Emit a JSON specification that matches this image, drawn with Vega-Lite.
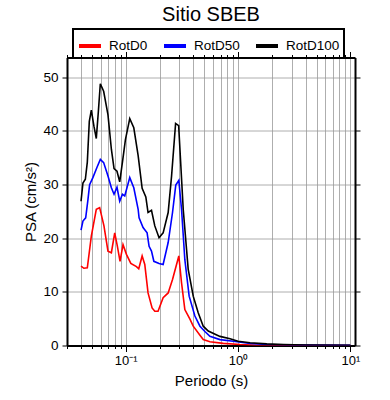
{
  "$schema": "https://vega.github.io/schema/vega-lite/v6.json",
  "width": 288,
  "height": 288,
  "autosize": {"type": "none"},
  "padding": {"left": 67, "top": 57.5, "right": 35, "bottom": 54.5},
  "config": {
    "font": "Liberation Sans",
    "view": {"stroke": null},
    "axis": {"domainColor": "black", "domainWidth": 2, "tickColor": "black", "tickWidth": 1, "labelColor": "black", "titleColor": "black", "titleFontWeight": "normal", "gridColor": "#999999", "gridWidth": 0.8, "gridOpacity": 1}
  },
  "title": {"text": "Sitio SBEB", "fontSize": 20, "fontWeight": "normal", "anchor": "middle", "baseline": "alphabetic", "offset": 0, "dy": 12.5, "color": "black"},
  "data": {"values": [
    {"T": 0.04, "PSA": 14.8, "comp": "RotD0"},
    {"T": 0.0424, "PSA": 14.4, "comp": "RotD0"},
    {"T": 0.0455, "PSA": 14.5, "comp": "RotD0"},
    {"T": 0.0494, "PSA": 20.4, "comp": "RotD0"},
    {"T": 0.0547, "PSA": 25.4, "comp": "RotD0"},
    {"T": 0.0586, "PSA": 25.7, "comp": "RotD0"},
    {"T": 0.064, "PSA": 22.3, "comp": "RotD0"},
    {"T": 0.0695, "PSA": 17.6, "comp": "RotD0"},
    {"T": 0.0745, "PSA": 17.3, "comp": "RotD0"},
    {"T": 0.0798, "PSA": 21.0, "comp": "RotD0"},
    {"T": 0.0843, "PSA": 18.5, "comp": "RotD0"},
    {"T": 0.089, "PSA": 15.7, "comp": "RotD0"},
    {"T": 0.0946, "PSA": 18.8, "comp": "RotD0"},
    {"T": 0.1015, "PSA": 17.0, "comp": "RotD0"},
    {"T": 0.111, "PSA": 15.3, "comp": "RotD0"},
    {"T": 0.1246, "PSA": 14.7, "comp": "RotD0"},
    {"T": 0.1306, "PSA": 14.3, "comp": "RotD0"},
    {"T": 0.14, "PSA": 16.7, "comp": "RotD0"},
    {"T": 0.1478, "PSA": 15.1, "comp": "RotD0"},
    {"T": 0.158, "PSA": 9.8, "comp": "RotD0"},
    {"T": 0.1717, "PSA": 7.0, "comp": "RotD0"},
    {"T": 0.1815, "PSA": 6.4, "comp": "RotD0"},
    {"T": 0.194, "PSA": 6.4, "comp": "RotD0"},
    {"T": 0.2153, "PSA": 8.9, "comp": "RotD0"},
    {"T": 0.2387, "PSA": 9.8, "comp": "RotD0"},
    {"T": 0.261, "PSA": 12.3, "comp": "RotD0"},
    {"T": 0.297, "PSA": 16.7, "comp": "RotD0"},
    {"T": 0.314, "PSA": 11.7, "comp": "RotD0"},
    {"T": 0.336, "PSA": 6.7, "comp": "RotD0"},
    {"T": 0.373, "PSA": 4.9, "comp": "RotD0"},
    {"T": 0.399, "PSA": 3.6, "comp": "RotD0"},
    {"T": 0.458, "PSA": 1.9, "comp": "RotD0"},
    {"T": 0.49, "PSA": 1.1, "comp": "RotD0"},
    {"T": 0.562, "PSA": 0.7, "comp": "RotD0"},
    {"T": 0.739, "PSA": 0.4, "comp": "RotD0"},
    {"T": 1.04, "PSA": 0.19, "comp": "RotD0"},
    {"T": 1.47, "PSA": 0.06, "comp": "RotD0"},
    {"T": 3.0, "PSA": 0.02, "comp": "RotD0"},
    {"T": 10.0, "PSA": 0.01, "comp": "RotD0"},
    {"T": 0.04, "PSA": 21.5, "comp": "RotD50"},
    {"T": 0.0416, "PSA": 23.2, "comp": "RotD50"},
    {"T": 0.044, "PSA": 23.8, "comp": "RotD50"},
    {"T": 0.0461, "PSA": 27.2, "comp": "RotD50"},
    {"T": 0.0477, "PSA": 30.0, "comp": "RotD50"},
    {"T": 0.051, "PSA": 31.3, "comp": "RotD50"},
    {"T": 0.0554, "PSA": 33.2, "comp": "RotD50"},
    {"T": 0.0594, "PSA": 34.7, "comp": "RotD50"},
    {"T": 0.0636, "PSA": 34.1, "comp": "RotD50"},
    {"T": 0.0695, "PSA": 31.6, "comp": "RotD50"},
    {"T": 0.0745, "PSA": 29.4, "comp": "RotD50"},
    {"T": 0.0787, "PSA": 28.2, "comp": "RotD50"},
    {"T": 0.0836, "PSA": 29.5, "comp": "RotD50"},
    {"T": 0.0884, "PSA": 26.9, "comp": "RotD50"},
    {"T": 0.0935, "PSA": 28.2, "comp": "RotD50"},
    {"T": 0.098, "PSA": 27.9, "comp": "RotD50"},
    {"T": 0.1086, "PSA": 31.3, "comp": "RotD50"},
    {"T": 0.118, "PSA": 29.4, "comp": "RotD50"},
    {"T": 0.129, "PSA": 25.4, "comp": "RotD50"},
    {"T": 0.1315, "PSA": 23.8, "comp": "RotD50"},
    {"T": 0.1427, "PSA": 22.0, "comp": "RotD50"},
    {"T": 0.155, "PSA": 21.0, "comp": "RotD50"},
    {"T": 0.1614, "PSA": 18.5, "comp": "RotD50"},
    {"T": 0.1696, "PSA": 17.6, "comp": "RotD50"},
    {"T": 0.178, "PSA": 15.7, "comp": "RotD50"},
    {"T": 0.198, "PSA": 15.3, "comp": "RotD50"},
    {"T": 0.2153, "PSA": 15.1, "comp": "RotD50"},
    {"T": 0.2387, "PSA": 19.2, "comp": "RotD50"},
    {"T": 0.261, "PSA": 24.8, "comp": "RotD50"},
    {"T": 0.279, "PSA": 29.9, "comp": "RotD50"},
    {"T": 0.297, "PSA": 30.8, "comp": "RotD50"},
    {"T": 0.314, "PSA": 25.4, "comp": "RotD50"},
    {"T": 0.336, "PSA": 16.0, "comp": "RotD50"},
    {"T": 0.367, "PSA": 9.2, "comp": "RotD50"},
    {"T": 0.413, "PSA": 5.5, "comp": "RotD50"},
    {"T": 0.458, "PSA": 3.6, "comp": "RotD50"},
    {"T": 0.507, "PSA": 2.6, "comp": "RotD50"},
    {"T": 0.562, "PSA": 1.7, "comp": "RotD50"},
    {"T": 0.69, "PSA": 1.1, "comp": "RotD50"},
    {"T": 0.908, "PSA": 0.8, "comp": "RotD50"},
    {"T": 1.28, "PSA": 0.37, "comp": "RotD50"},
    {"T": 1.8, "PSA": 0.19, "comp": "RotD50"},
    {"T": 3.0, "PSA": 0.1, "comp": "RotD50"},
    {"T": 10.0, "PSA": 0.04, "comp": "RotD50"},
    {"T": 0.04, "PSA": 26.9, "comp": "RotD100"},
    {"T": 0.0416, "PSA": 30.3, "comp": "RotD100"},
    {"T": 0.0437, "PSA": 31.0, "comp": "RotD100"},
    {"T": 0.0455, "PSA": 34.2, "comp": "RotD100"},
    {"T": 0.0474, "PSA": 41.8, "comp": "RotD100"},
    {"T": 0.0494, "PSA": 43.9, "comp": "RotD100"},
    {"T": 0.0521, "PSA": 40.9, "comp": "RotD100"},
    {"T": 0.0547, "PSA": 38.6, "comp": "RotD100"},
    {"T": 0.057, "PSA": 43.5, "comp": "RotD100"},
    {"T": 0.0594, "PSA": 48.8, "comp": "RotD100"},
    {"T": 0.0636, "PSA": 47.4, "comp": "RotD100"},
    {"T": 0.0695, "PSA": 43.0, "comp": "RotD100"},
    {"T": 0.0745, "PSA": 36.6, "comp": "RotD100"},
    {"T": 0.0787, "PSA": 33.0, "comp": "RotD100"},
    {"T": 0.0836, "PSA": 32.5, "comp": "RotD100"},
    {"T": 0.0884, "PSA": 30.5, "comp": "RotD100"},
    {"T": 0.0935, "PSA": 34.2, "comp": "RotD100"},
    {"T": 0.0994, "PSA": 38.4, "comp": "RotD100"},
    {"T": 0.1086, "PSA": 42.3, "comp": "RotD100"},
    {"T": 0.118, "PSA": 40.6, "comp": "RotD100"},
    {"T": 0.129, "PSA": 35.4, "comp": "RotD100"},
    {"T": 0.14, "PSA": 29.3, "comp": "RotD100"},
    {"T": 0.151, "PSA": 27.7, "comp": "RotD100"},
    {"T": 0.158, "PSA": 24.8, "comp": "RotD100"},
    {"T": 0.1696, "PSA": 25.2, "comp": "RotD100"},
    {"T": 0.1815, "PSA": 22.3, "comp": "RotD100"},
    {"T": 0.198, "PSA": 20.1, "comp": "RotD100"},
    {"T": 0.2153, "PSA": 21.0, "comp": "RotD100"},
    {"T": 0.2387, "PSA": 24.8, "comp": "RotD100"},
    {"T": 0.256, "PSA": 31.6, "comp": "RotD100"},
    {"T": 0.278, "PSA": 41.4, "comp": "RotD100"},
    {"T": 0.296, "PSA": 41.0, "comp": "RotD100"},
    {"T": 0.325, "PSA": 25.4, "comp": "RotD100"},
    {"T": 0.36, "PSA": 14.2, "comp": "RotD100"},
    {"T": 0.399, "PSA": 9.2, "comp": "RotD100"},
    {"T": 0.442, "PSA": 6.1, "comp": "RotD100"},
    {"T": 0.49, "PSA": 3.6, "comp": "RotD100"},
    {"T": 0.543, "PSA": 2.7, "comp": "RotD100"},
    {"T": 0.69, "PSA": 1.7, "comp": "RotD100"},
    {"T": 0.849, "PSA": 1.25, "comp": "RotD100"},
    {"T": 1.0, "PSA": 0.8, "comp": "RotD100"},
    {"T": 1.28, "PSA": 0.5, "comp": "RotD100"},
    {"T": 1.8, "PSA": 0.3, "comp": "RotD100"},
    {"T": 2.54, "PSA": 0.2, "comp": "RotD100"},
    {"T": 4.0, "PSA": 0.1, "comp": "RotD100"},
    {"T": 10.0, "PSA": 0.05, "comp": "RotD100"}
  ]},
  "layer": [
    {
      "mark": {"type": "line", "strokeWidth": 1.6, "clip": true},
      "encoding": {
        "x": {
          "field": "T", "type": "quantitative",
          "scale": {"type": "log", "domain": [0.03, 11], "nice": false},
          "axis": {
            "orient": "bottom",
            "values": [0.03, 0.04, 0.05, 0.06, 0.07, 0.08, 0.09, 0.1, 0.2, 0.3, 0.4, 0.5, 0.6, 0.7, 0.8, 0.9, 1, 2, 3, 4, 5, 6, 7, 8, 9, 10],
            "labelExpr": "datum.value == 0.1 ? '10⁻¹' : datum.value == 1 ? '10⁰' : datum.value == 10 ? '10¹' : ''",
            "labelOverlap": false,
            "labelFlush": false,
            "labelFontSize": 13,
            "labelPadding": 3,
            "tickSize": {"condition": {"test": "datum.value == 0.1 || datum.value == 1 || datum.value == 10", "value": 6}, "value": 3},
            "grid": true,
            "title": "Periodo (s)",
            "titleFontSize": 15,
            "titlePadding": 6
          }
        },
        "y": {
          "field": "PSA", "type": "quantitative",
          "scale": {"domain": [0, 53.7], "nice": false},
          "axis": {
            "orient": "left",
            "values": [0, 10, 20, 30, 40, 50],
            "tickSize": 5,
            "labelFontSize": 13.5,
            "labelPadding": 4,
            "grid": true,
            "title": "PSA (cm/s²)",
            "titleFontSize": 15,
            "titlePadding": 4
          }
        },
        "color": {
          "field": "comp", "type": "nominal",
          "scale": {"domain": ["RotD0", "RotD50", "RotD100"], "range": ["#ff0000", "#0000ff", "#000000"]},
          "legend": {
            "orient": "none",
            "legendX": 6,
            "legendY": -28.5,
            "direction": "horizontal",
            "title": null,
            "symbolType": "stroke",
            "symbolStrokeWidth": 4,
            "symbolSize": 484,
            "labelFontSize": 13.5,
            "labelColor": "black",
            "labelOffset": 6,
            "columnPadding": 8,
            "padding": 4,
            "strokeColor": "black",
            "encode": {"legend": {"update": {"strokeWidth": {"value": 2}}}}
          }
        }
      }
    },
    {
      "mark": {"type": "line", "opacity": 0},
      "encoding": {
        "x": {
          "field": "T", "type": "quantitative",
          "axis": {
            "orient": "top",
            "values": [0.03, 0.04, 0.05, 0.06, 0.07, 0.08, 0.09, 0.1, 0.2, 0.3, 0.4, 0.5, 0.6, 0.7, 0.8, 0.9, 1, 2, 3, 4, 5, 6, 7, 8, 9, 10],
            "labels": false,
            "grid": false,
            "title": null,
            "tickSize": {"condition": {"test": "datum.value == 0.1 || datum.value == 1 || datum.value == 10", "value": 6}, "value": 3}
          }
        },
        "y": {
          "field": "PSA", "type": "quantitative",
          "axis": {
            "orient": "right",
            "values": [0, 10, 20, 30, 40, 50],
            "labels": false,
            "grid": false,
            "title": null,
            "tickSize": 5
          }
        },
        "detail": {"field": "comp", "type": "nominal"}
      }
    }
  ],
  "resolve": {"axis": {"x": "independent", "y": "independent"}}
}
